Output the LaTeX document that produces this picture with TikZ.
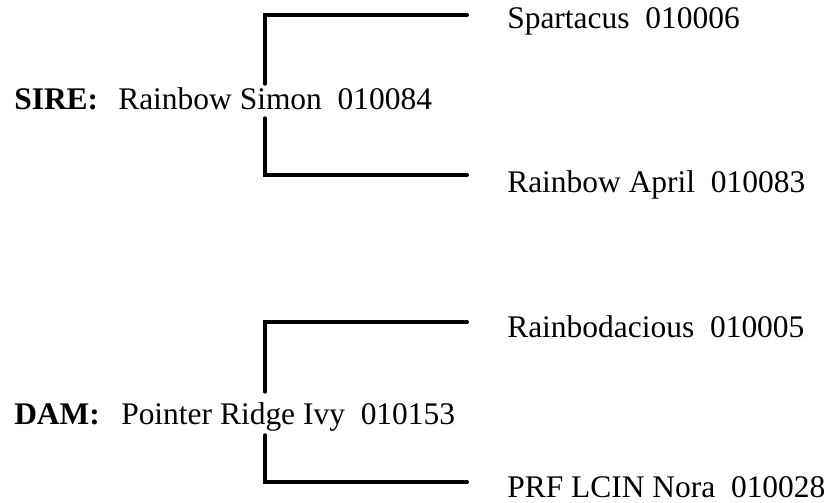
\documentclass[tikz,border=0pt]{standalone}
\usepackage{fontspec}
\setmainfont{Liberation Serif}
\begin{document}
\begin{tikzpicture}[x=0.75pt, y=-0.75pt, font=\fontsize{23.6}{28}\selectfont]
	% Stili per rami e nomi del pedigree
	\tikzset{
		ramo/.style={line width=3pt, line cap=round},
		ruolo/.style={anchor=base west, inner sep=0pt, font=\fontsize{23.6}{28}\selectfont\bfseries},
		soggetto/.style={anchor=base west, inner sep=0pt, text height=18.75pt, text depth=6.75pt},
		avo/.style={anchor=base west, inner sep=0pt}
	}
	\useasboundingbox (0,0) rectangle (829,503);
	
	% Padre e suoi genitori
	\node[ruolo] (sire) at (14,109) {SIRE:};
	\node[soggetto] (simon) at (118,109) {Rainbow Simon~~010084};
	\node[avo] (spartacus) at (507,29) {Spartacus~~010006};
	\node[avo] (april) at (507,192) {Rainbow April~~010083};
	\coordinate (p1) at (265,15);
	\coordinate (p1e) at (467,15);
	\coordinate (p2) at (265,175);
	\coordinate (p2e) at (467,175);
	\draw[ramo] (p1e) -- (p1) -- (p1 |- simon.north);
	\draw[ramo] (p2e) -- (p2) -- (p2 |- simon.south);
	
	% Madre e suoi genitori
	\node[ruolo] (dam) at (14,424) {DAM:};
	\node[soggetto, text height=24pt, text depth=8.25pt] (ivy) at (121,424) {Pointer Ridge Ivy~~010153};
	\node[avo] (rainbodacious) at (507,337) {Rainbodacious~~010005};
	\node[avo] (nora) at (507,497) {PRF LCIN Nora~~010028};
	\coordinate (m1) at (265,322);
	\coordinate (m1e) at (467,322);
	\coordinate (m2) at (265,482);
	\coordinate (m2e) at (467,482);
	\draw[ramo] (m1e) -- (m1) -- (m1 |- ivy.north);
	\draw[ramo] (m2e) -- (m2) -- (m2 |- ivy.south);
\end{tikzpicture}
\end{document}
